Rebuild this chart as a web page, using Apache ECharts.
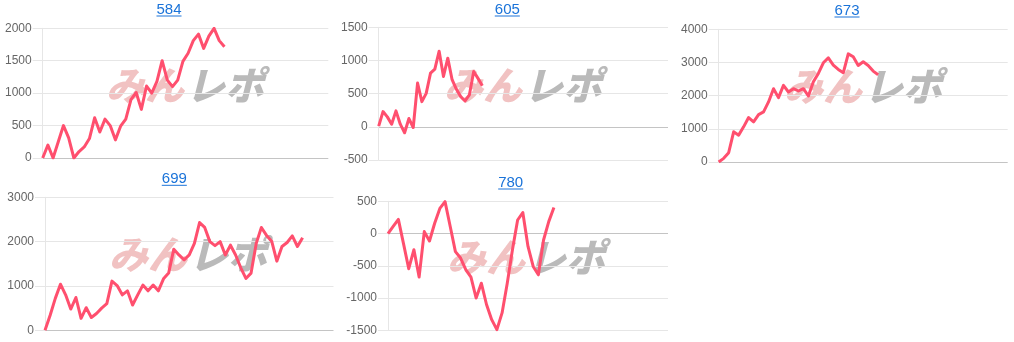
<!DOCTYPE html>
<html><head><meta charset="utf-8">
<script src="https://cdn.jsdelivr.net/npm/echarts@6/dist/echarts.min.js"></script>
<style>html,body{margin:0;padding:0;background:#fff;}#c{width:1014px;height:342px;}</style>
</head><body><div id="c"></div>
<script>
// ---- data ----
const titles = ['584', '605', '673', '699', '780'];
const values584 = [0, 200, 0, 250, 500, 310, 0, 100, 170, 300, 620, 400, 600, 500, 280, 490, 600, 900, 1010, 750, 1110, 1000, 1180, 1500, 1200, 1100, 1200, 1490, 1615, 1810, 1910, 1690, 1880, 2000, 1810, 1715];
const values605 = [10, 230, 150, 40, 240, 40, -90, 125, -10, 660, 380, 505, 810, 870, 1140, 760, 1035, 710, 565, 455, 390, 480, 835, 730, 620];
const values673 = [0, 110, 280, 910, 810, 1060, 1340, 1210, 1430, 1510, 1810, 2210, 1940, 2310, 2110, 2210, 2140, 2210, 1990, 2420, 2670, 2990, 3140, 2920, 2790, 2690, 3260, 3170, 2910, 3020, 2910, 2740, 2630];
const values699 = [0, 340, 720, 1040, 800, 480, 740, 270, 510, 290, 380, 500, 600, 1110, 1010, 800, 890, 570, 800, 1020, 890, 1020, 890, 1160, 1290, 1830, 1700, 1590, 1700, 1960, 2430, 2320, 2000, 1910, 2000, 1700, 1920, 1700, 1410, 1170, 1290, 1960, 2320, 2140, 2010, 1560, 1890, 1980, 2130, 1890, 2090];
const values780 = [0, 110, 220, -160, -545, -250, -675, 30, -115, 160, 390, 495, 110, -280, -380, -560, -675, -1000, -770, -1100, -1335, -1490, -1230, -770, -250, 210, 325, -200, -510, -640, -100, 185, 405];
const categoryCounts = [56, 68, 59, 57, 55];
const yMins = [0, -500, 0, 0, -1500];
const yMaxs = [2000, 1500, 4000, 3000, 500];
const ySteps = [500, 500, 1000, 1000, 500];
const watermarkLeft = 'みん';
const watermarkRight = 'レポ';

const seriesValues = [values584, values605, values673, values699, values780];

// ---- layout (px) ----
const boxes = [
  {l: 42.7, t: 28.3, r: 328.3, b: 158,   tx: 169,   ty: 9.6,   ul: 16,    wx: 184, wy: 85},
  {l: 378.7, t: 27.3, r: 668,  b: 160,   tx: 507.3, ty: 9.6,   ul: 16,    wx: 522, wy: 85},
  {l: 718.7, t: 29.3, r: 1007.7, b: 162, tx: 847,   ty: 10.4,  ul: 17,    wx: 862, wy: 86},
  {l: 45,   t: 197.3, r: 333.5, b: 330.3, tx: 174.3, ty: 178.8, ul: 185.3, wx: 187, wy: 254},
  {l: 388,  t: 201.3, r: 668,  b: 330.3, tx: 510.7, ty: 182.6, ul: 189,   wx: 525, wy: 257}
];

const LINK = '#1a73d9';
const GRID = '#e6e6e6';
const ZERO = '#c4c4c4';
const LINE = '#ff4f6e';
const titleFont = '15px "Liberation Sans", Arial, sans-serif';
const wmFont = 'italic 900 39px "Noto Sans CJK JP", sans-serif';

const mctx = document.createElement('canvas').getContext('2d');
mctx.font = titleFont;

const grid = [], xAxis = [], yAxis = [], series = [], graphic = [];
boxes.forEach((b, i) => {
  grid.push({left: b.l, top: b.t, width: b.r - b.l, height: b.b - b.t, containLabel: false});
  const cats = [];
  for (let k = 1; k <= categoryCounts[i]; k++) cats.push(String(k));
  xAxis.push({
    type: 'category', gridIndex: i, data: cats, boundaryGap: false,
    axisLine: {show: false}, axisTick: {show: false}, axisLabel: {show: false}, splitLine: {show: false}
  });
  const nTicks = (yMaxs[i] - yMins[i]) / ySteps[i] + 1;
  const zeroIdx = (0 - yMins[i]) / ySteps[i];
  const colors = [];
  for (let k = 0; k < nTicks; k++) colors.push(k === zeroIdx ? ZERO : GRID);
  yAxis.push({
    type: 'value', gridIndex: i, min: yMins[i], max: yMaxs[i], interval: ySteps[i],
    axisLine: {show: true, lineStyle: {color: GRID, width: 1}},
    axisTick: {show: true, length: 10, lineStyle: {color: GRID}},
    axisLabel: {margin: 11, color: '#666', fontSize: 12, fontFamily: '"Liberation Sans", Arial, sans-serif',
      formatter: v => String(v)},
    splitLine: {show: true, lineStyle: {color: colors, width: 1}}
  });
  series.push({
    type: 'line', xAxisIndex: i, yAxisIndex: i, data: seriesValues[i],
    symbol: 'none', smooth: false, z: 5,
    lineStyle: {color: LINE, width: 3, join: 'round'},
    itemStyle: {color: LINE}, animation: false
  });
  const w = mctx.measureText(titles[i]).width;
  graphic.push({type: 'text', x: b.tx, y: b.ty, z: 10,
    style: {text: titles[i], fill: LINK, font: titleFont, align: 'center', verticalAlign: 'middle'}});
  graphic.push({type: 'rect', z: 10, shape: {x: b.tx - w / 2, y: b.ul - 0.5, width: w, height: 1},
    style: {fill: LINK}});
  graphic.push({type: 'text', x: b.wx, y: b.wy, z: 0, silent: true,
    style: {text: watermarkLeft, fill: 'rgba(222,110,110,0.42)', align: 'right', verticalAlign: 'middle', font: wmFont}});
  graphic.push({type: 'text', x: b.wx + 2, y: b.wy, z: 0, silent: true,
    style: {text: watermarkRight, fill: 'rgba(130,130,130,0.55)', align: 'left', verticalAlign: 'middle', font: wmFont}});
});

const chart = echarts.init(document.getElementById('c'), null, {renderer: 'canvas'});
chart.setOption({animation: false, backgroundColor: '#fff', grid, xAxis, yAxis, series, graphic});
</script></body></html>
